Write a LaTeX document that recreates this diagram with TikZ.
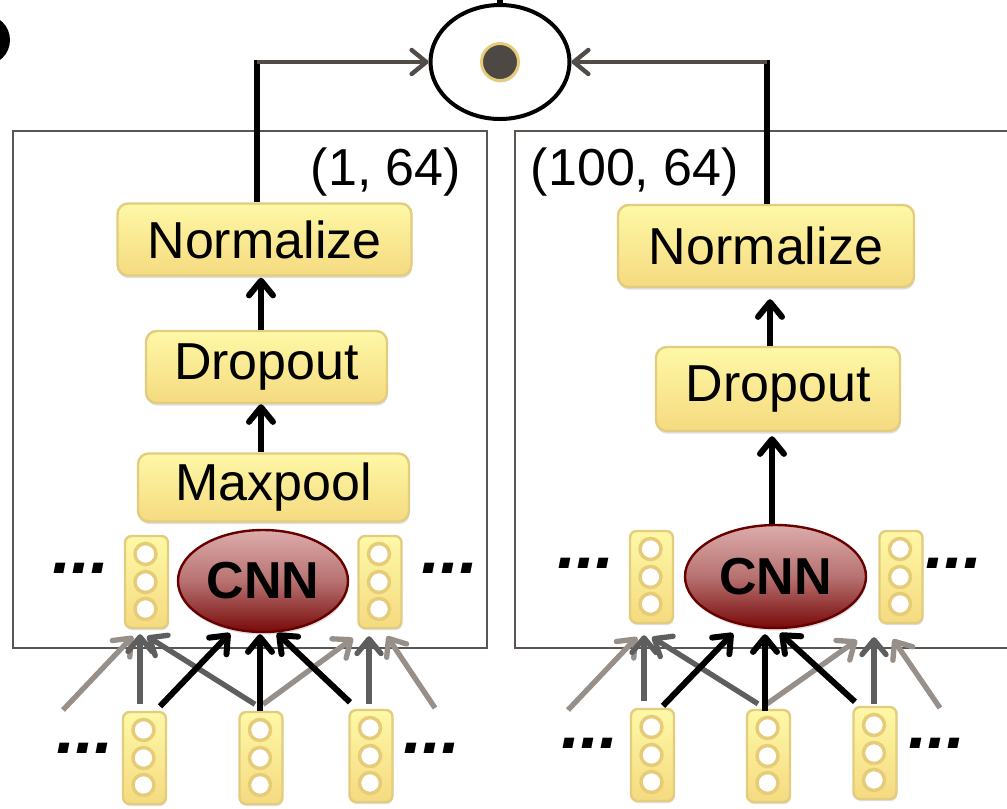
\documentclass[tikz,border=0pt]{standalone}
\usepackage{fontspec}
\setmainfont{Liberation Sans}
\usetikzlibrary{arrows.meta,calc,shadows,shapes.geometric}
\newlength\px \setlength\px{0.75pt}
\definecolor{frameC}{HTML}{5B5551}
\definecolor{boxTop}{HTML}{FEF8A6}
\definecolor{boxBot}{HTML}{F5DA80}
\definecolor{boxLine}{HTML}{E2CC7E}
\definecolor{dotLine}{HTML}{E6CC78}
\definecolor{cnnTop}{HTML}{DCACAB}
\definecolor{cnnMid}{HTML}{B77271}
\definecolor{cnnBot}{HTML}{780A0A}
\definecolor{cnnLine}{HTML}{680000}
\definecolor{lgC}{HTML}{978F8A}
\definecolor{dgC}{HTML}{5E5E5E}
\definecolor{topC}{HTML}{524C48}
\definecolor{prodDot}{HTML}{4D4844}
\newcommand\vecstack[3]{%
  \node[vecbox] (#1) at (#2,#3) {};
  \node[vdot] (#1a) at ($(#1.center)+(-1,-28)$) {};
  \node[vdot] (#1b) at ($(#1.center)+(-1,0)$) {};
  \node[vdot] (#1c) at ($(#1.center)+(-1,27)$) {};}
\begin{document}
\begin{tikzpicture}[x=0.75pt,y=-0.75pt,
  tip/.style={-{Straight Barb[length=11pt,width=18pt,line cap=round,line join=round]}},
  bk/.style={draw=black,line width=4.5pt,tip},
  dg/.style={draw=dgC,line width=4pt,tip},
  lg/.style={draw=lgC,line width=4pt,tip},
  topg/.style={draw=topC,line width=3.3pt,tip},
  bkline/.style={draw=black,line width=3.9pt},
  frame/.style={draw=frameC,line width=1.8pt},
  layer/.style={rectangle,rounded corners=8pt,draw=boxLine,line width=1.8pt,
    top color=boxTop,bottom color=boxBot,inner sep=0pt,
    font=\fontsize{39}{44}\selectfont,
    drop shadow={shadow xshift=0.5pt,shadow yshift=-2pt,opacity=0.25}},
  vecbox/.style={rectangle,rounded corners=5pt,draw=boxLine,line width=1.8pt,
    top color=boxTop,bottom color=boxBot,inner sep=0pt,
    minimum width=43\px,minimum height=92\px,
    drop shadow={shadow xshift=0.5pt,shadow yshift=-1.5pt,opacity=0.25}},
  vdot/.style={circle,fill=white,draw=dotLine,line width=2.6pt,inner sep=0pt,minimum size=21\px},
  cnn/.style={ellipse,draw=cnnLine,line width=1.8pt,top color=cnnTop,bottom color=cnnBot,
    middle color=cnnMid,inner sep=0pt,font=\bfseries\fontsize{39}{40}\selectfont,
    drop shadow={shadow xshift=0.5pt,shadow yshift=-2pt,opacity=0.25}},
  ell3/.style={inner sep=0pt,font=\bfseries\itshape\fontsize{52}{54}\selectfont},
  lbl/.style={inner sep=0pt,font=\fontsize{39}{44}\selectfont},
  prodE/.style={ellipse,draw=black,line width=3pt,fill=white,inner sep=0pt,
    minimum width=139\px,minimum height=114\px},
  prodD/.style={circle,fill=prodDot,draw=dotLine,line width=2.2pt,inner sep=0pt,minimum size=37\px,
    drop shadow={shadow xshift=0.5pt,shadow yshift=-1.5pt,opacity=0.3}}
]
\useasboundingbox (0,0) rectangle (1007,808);
\clip (0,0) rectangle (1007,808);

% clipped fragment at the top left
\fill[black] (-15,40) circle [radius=25];

% frames
\draw[frame] (13,131) rectangle (487,648);
\draw[frame] (515,131) rectangle (1020,648);

% product node
\node[prodE] (prod) at (500,62) {};
\node[prodD] (pdot) at (500,62) {};
\coordinate (stemTop) at (500,-10);
\draw[black,line width=4pt] (prod.north) -- (stemTop);

% size labels
\node[lbl] (sL) at (386,172) {(1, 64)};
\node[lbl] (sR) at (635,172) {(100, 64)};

% left stack
\node[layer,minimum width=294\px,minimum height=72\px] (nL) at (264.5,239.5) {Normalize};
\node[layer,minimum width=241\px,minimum height=72\px] (dL) at (266.5,367) {Dropout};
\node[layer,minimum width=271\px,minimum height=68\px] (mL) at (273.5,487.5) {Maxpool};
% right stack
\node[layer,minimum width=296\px,minimum height=82\px] (nR) at (766,246) {Normalize};
\node[layer,minimum width=244\px,minimum height=84\px] (dR) at (778,389) {Dropout};

% CNN ellipses
\node[cnn,minimum width=170\px,minimum height=102\px] (cL) at (263,581) {CNN};
\node[cnn,minimum width=181\px,minimum height=103\px] (cR) at (775.5,576.5) {CNN};

% vectors
\vecstack{lU1}{146.5}{582}
\vecstack{lU2}{380}{582}
\vecstack{lB1}{144.5}{758}
\vecstack{lB2}{261}{758}
\vecstack{lB3}{371}{756}
\vecstack{rU1}{651.5}{577}
\vecstack{rU2}{901}{577}
\vecstack{rB1}{652.5}{755}
\vecstack{rB2}{768.5}{756}
\vecstack{rB3}{875}{753}

% ellipses (dots)
\node[ell3] (lE1) at (81,568) {...};
\node[ell3] (lE2) at (450,568) {...};
\node[ell3] (lE3) at (85,748) {...};
\node[ell3] (lE4) at (432,748) {...};
\node[ell3] (rE1) at (586,563) {...};
\node[ell3] (rE2) at (954,563) {...};
\node[ell3] (rE3) at (590,743) {...};
\node[ell3] (rE4) at (937,743) {...};

% left panel inputs
\coordinate (lL0) at (63,710);
\coordinate (lR0) at (435,708);
\draw[lg] (lL0) -- ([shift={(-13.5,7)}]lU1.south);
\draw[dg] ([shift={(-4.5,-6.5)}]lB1.north) -- ([shift={(-6.5,5)}]lU1.south);
\draw[dg] ([shift={(-6,-6.5)}]lB2.north) -- ([shift={(0.5,7)}]lU1.south);
\draw[lg] ([shift={(2,-6.5)}]lB2.north) -- ([shift={(-27,9)}]lU2.south);
\draw[dg] ([shift={(-2,-4.5)}]lB3.north) -- ([shift={(-11,7)}]lU2.south);
\draw[lg] (lR0) -- ([shift={(7,7)}]lU2.south);
\draw[bk] ([shift={(15.5,-4.5)}]lB1.north) -- ([shift={(-33,0)}]cL.south);
\draw[bk] ([shift={(-1,0)}]lB2.north) -- ([shift={(-3,1)}]cL.south);
\draw[bk] ([shift={(-21,-6.5)}]lB3.north) -- ([shift={(14,0)}]cL.south);

% right panel inputs
\coordinate (rL0) at (568,710);
\coordinate (rR0) at (940,708);
\draw[lg] (rL0) -- ([shift={(-14.5,13)}]rU1.south);
\draw[dg] ([shift={(-8.5,-7)}]rB1.north) -- ([shift={(-7.5,11)}]rU1.south);
\draw[dg] ([shift={(-10.5,-5)}]rB2.north) -- ([shift={(0.5,13)}]rU1.south);
\draw[lg] ([shift={(-1.5,-5)}]rB2.north) -- ([shift={(-44,16)}]rU2.south);
\draw[dg] ([shift={(-1,-2)}]rB3.north) -- ([shift={(-27,13)}]rU2.south);
\draw[lg] (rR0) -- ([shift={(-8,15)}]rU2.south);
\draw[bk] ([shift={(10.5,-2)}]rB1.north) -- ([shift={(-42.5,4)}]cR.south);
\draw[bk] ([shift={(-3.5,2)}]rB2.north) -- ([shift={(-10.5,5)}]cR.south);
\draw[bk] ([shift={(-20,-4)}]rB3.north) -- ([shift={(4.5,4)}]cR.south);

% stack arrows
\draw[bk] ([shift={(-12.5,0)}]mL.north) -- ([shift={(-5.5,0)}]dL.south);
\draw[bk] ([shift={(-5.5,0)}]dL.north) -- ([shift={(-3.5,1)}]nL.south);
\draw[bk] ([shift={(-3.5,0)}]cR.north) -- ([shift={(-6,4)}]dR.south);
\draw[bk] ([shift={(-8,0)}]dR.north) -- ([shift={(4,11)}]nR.south);

% outputs to product
\coordinate (jL) at (257,62);
\coordinate (jR) at (767,62);
\draw[bkline] ([shift={(-7.5,0)}]nL.north) -- ([shift={(0,-2)}]jL);
\draw[topg] (jL) -- (prod.west);
\draw[bkline] ([shift={(1,0)}]nR.north) -- ([shift={(0,-2)}]jR);
\draw[topg] (jR) -- (prod.east);
\end{tikzpicture}
\end{document}
